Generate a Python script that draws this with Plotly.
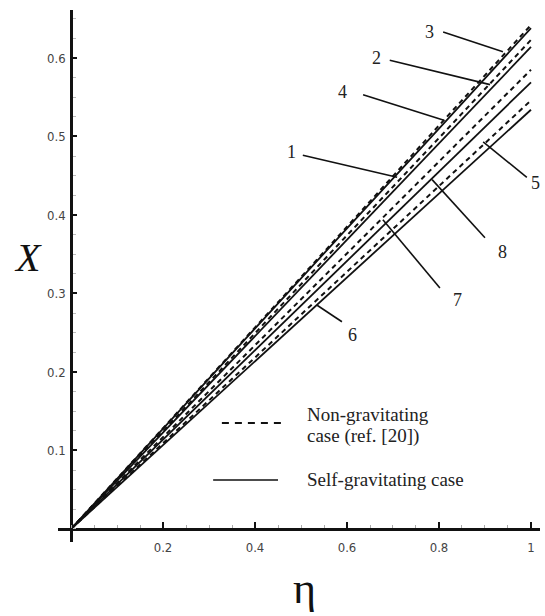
import plotly.graph_objects as go

# Dimensionless coordinate and solutions X(eta) for the eight cases
eta = [0.0, 0.2, 0.4, 0.6, 0.8, 1.0]

x3 = [0.0, 0.128, 0.257, 0.385, 0.514, 0.642]   # non-gravitating
x4 = [0.0, 0.128, 0.255, 0.383, 0.510, 0.638]   # self-gravitating
x2 = [0.0, 0.125, 0.249, 0.374, 0.498, 0.623]   # non-gravitating
x1 = [0.0, 0.123, 0.246, 0.368, 0.491, 0.614]   # self-gravitating
x7 = [0.0, 0.117, 0.234, 0.351, 0.468, 0.585]   # non-gravitating
x8 = [0.0, 0.114, 0.228, 0.341, 0.455, 0.569]   # self-gravitating
x5 = [0.0, 0.109, 0.218, 0.328, 0.437, 0.546]   # non-gravitating
x6 = [0.0, 0.107, 0.214, 0.320, 0.427, 0.534]   # self-gravitating

x_ticks = [0.2, 0.4, 0.6, 0.8, 1.0]
x_tick_text = ["0.2", "0.4", "0.6", "0.8", "1"]
y_ticks = [0.1, 0.2, 0.3, 0.4, 0.5, 0.6]
y_tick_text = ["0.1", "0.2", "0.3", "0.4", "0.5", "0.6"]

# curve label: (text position), (pointer start), (pointer end)
curve_labels = [
    ("3", (0.780, 0.633), (0.809, 0.633), (0.939, 0.608)),
    ("2", (0.665, 0.600), (0.693, 0.597), (0.911, 0.566)),
    ("4", (0.591, 0.557), (0.635, 0.553), (0.809, 0.521)),
    ("1", (0.480, 0.480), (0.504, 0.476), (0.709, 0.448)),
    ("5", (1.009, 0.441), (0.991, 0.448), (0.896, 0.493)),
    ("8", (0.939, 0.353), (0.900, 0.371), (0.785, 0.445)),
    ("7", (0.841, 0.292), (0.802, 0.307), (0.678, 0.394)),
    ("6", (0.611, 0.247), (0.589, 0.264), (0.535, 0.285)),
]

INK = "#111111"
DASH = "5px,4px"
SERIF = "Liberation Serif, Times New Roman, serif"
NARROW = "Liberation Sans Narrow, DejaVu Sans Condensed, Roboto, Arial Narrow, sans-serif"

fig = go.Figure()

series = [
    ("3", x3, True), ("4", x4, False), ("2", x2, True), ("1", x1, False),
    ("7", x7, True), ("8", x8, False), ("5", x5, True), ("6", x6, False),
]
for name, vals, dashed in series:
    fig.add_trace(go.Scatter(
        x=eta, y=vals, mode="lines", name=name, showlegend=False,
        line=dict(color=INK, width=2.0 if dashed else 1.8,
                  dash=DASH if dashed else "solid"),
    ))

# curve number labels with pointer lines
for text, (tx, ty), (sx, sy), (ex, ey) in curve_labels:
    fig.add_shape(type="line", xref="x", yref="y", x0=sx, y0=sy, x1=ex, y1=ey,
                  line=dict(color=INK, width=1.6))
    fig.add_annotation(x=tx, y=ty, xref="x", yref="y", text=text, showarrow=False,
                       font=dict(family=SERIF, size=18, color="#222"))

# key
fig.add_shape(type="line", xref="x", yref="y", x0=0.328, y0=0.135, x1=0.461, y1=0.135,
              line=dict(color=INK, width=2.0, dash="7px,6px"))
fig.add_shape(type="line", xref="x", yref="y", x0=0.309, y0=0.0624, x1=0.450, y1=0.0624,
              line=dict(color=INK, width=1.6))
fig.add_annotation(x=0.509, y=0.146, xref="x", yref="y", text="Non-gravitating",
                   showarrow=False, xanchor="left",
                   font=dict(family=SERIF, size=19, color="#222"))
fig.add_annotation(x=0.509, y=0.119, xref="x", yref="y", text="case (ref. [20])",
                   showarrow=False, xanchor="left",
                   font=dict(family=SERIF, size=19, color="#222"))
fig.add_annotation(x=0.509, y=0.0624, xref="x", yref="y", text="Self-gravitating case",
                   showarrow=False, xanchor="left",
                   font=dict(family=SERIF, size=19, color="#222"))

# axis titles
fig.add_annotation(x=-0.095, y=0.534, xref="paper", yref="paper", text="<i>X</i>",
                   showarrow=False, font=dict(family=SERIF, size=40, color="#111"))
fig.add_annotation(x=0.512, y=-0.138, xref="paper", yref="paper", text="η",
                   showarrow=False, font=dict(family=SERIF, size=44, color="#111"))

x_range = [-0.0283, 1.0196]
y_range = [-0.0166, 0.6611]

fig.update_layout(
    width=545, height=616,
    margin=dict(l=58, r=5, t=10, b=74),
    paper_bgcolor="white", plot_bgcolor="white",
    showlegend=False,
    xaxis=dict(
        range=x_range, anchor="free",
        position=(0 - y_range[0]) / (y_range[1] - y_range[0]),
        showgrid=False, zeroline=False, showline=True, linecolor=INK, linewidth=2.5,
        tickvals=x_ticks, ticktext=x_tick_text, ticks="inside", ticklen=6,
        tickwidth=2, tickcolor=INK, ticklabelstandoff=6,
        tickfont=dict(family=NARROW, size=13, color="#444"),
        minor=dict(dtick=0.05, tick0=0, ticks="inside", ticklen=3, tickwidth=1,
                   tickcolor="#aaaaaa"),
    ),
    yaxis=dict(
        range=y_range, anchor="free",
        position=(0 - x_range[0]) / (x_range[1] - x_range[0]),
        showgrid=False, zeroline=False, showline=True, linecolor=INK, linewidth=2.5,
        tickvals=y_ticks, ticktext=y_tick_text, ticks="inside", ticklen=4,
        tickwidth=2, tickcolor=INK, ticklabelstandoff=2,
        tickfont=dict(family=NARROW, size=13, color="#444"),
        minor=dict(dtick=0.025, tick0=0, ticks="inside", ticklen=3, tickwidth=1,
                   tickcolor="#bbbbbb"),
    ),
)

fig.write_html("out.html")
